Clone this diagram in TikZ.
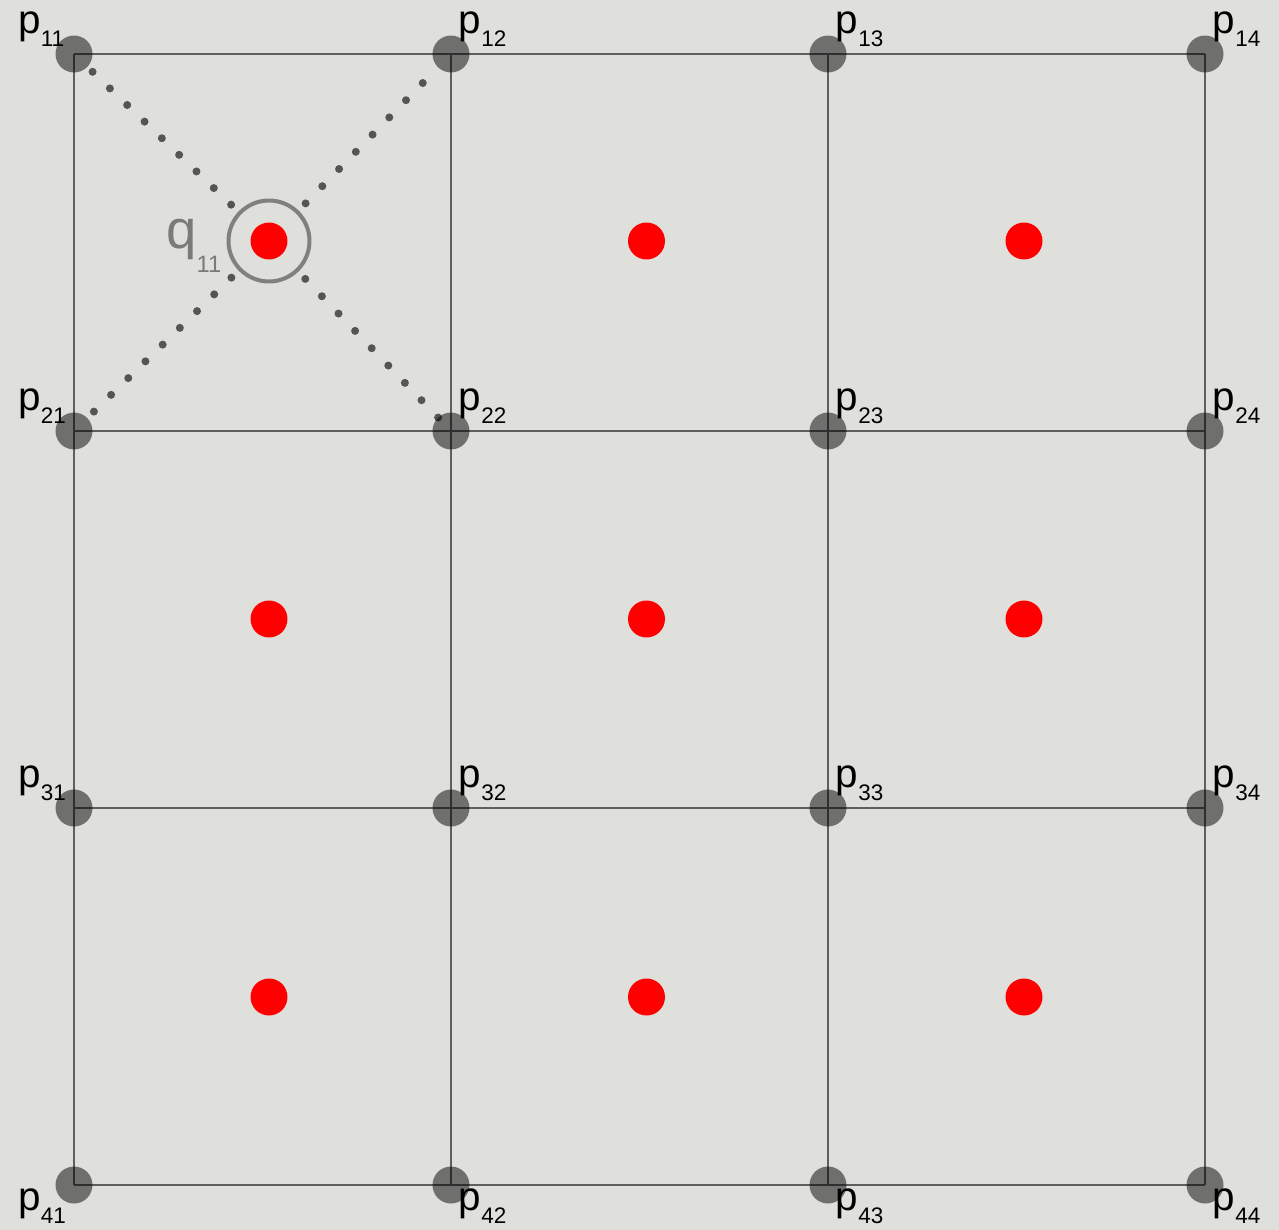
\documentclass[tikz,border=0pt]{standalone}
\usepackage{fontspec}
\setmainfont{Liberation Sans}
\usetikzlibrary{positioning}
\definecolor{paper}{RGB}{223,223,219}
\definecolor{gridgray}{RGB}{95,95,95}
\definecolor{dotgray}{RGB}{85,85,85}
\definecolor{ringgray}{RGB}{128,128,128}
\definecolor{qgray}{RGB}{122,122,122}

\newcommand{\psub}[2]{p\raisebox{-7.6pt}{\fontsize{12.8}{13}\selectfont #1#2}}

\begin{document}
\begin{tikzpicture}[
    x=0.02cm, y=-0.02cm,
    gridline/.style={draw=gridgray, line width=0.05cm},
    corner/.style={circle, fill=black, fill opacity=0.5, minimum size=0.74cm, inner sep=0pt},
    reddot/.style={circle, fill=red, minimum size=0.74cm, inner sep=0pt},
    ring/.style={circle, draw=ringgray, line width=0.08cm, minimum size=1.62cm, inner sep=0pt},
    plabel/.style={anchor=base west, inner sep=0pt, font=\fontsize{23}{24}\selectfont},
    qlabel/.style={anchor=base west, inner sep=0pt, text=qgray, font=\fontsize{31}{32}\selectfont},
    dotline/.style={dotgray, line width=0.16cm, line cap=round, dash pattern=on 0pt off 0.48cm,
        shorten <=0.2cm, shorten >=0.36cm}
]

\fill[paper] (0,0) rectangle (1279,1230);

\foreach \i in {1,...,4}
    \foreach \j in {1,...,4}
        \coordinate (p\i\j) at ({74+377*(\j-1)},{54+377*(\i-1)});

\foreach \i in {1,...,4} {
    \draw[gridline] (p\i1) -- (p\i4);
    \draw[gridline] (p1\i) -- (p4\i);
}

\foreach \i in {1,2,3}
    \foreach \j in {1,2,3}
        \node[reddot] (q\i\j) at ({269+377.5*(\j-1)},{241+378*(\i-1)}) {};

\node[ring] (ring) at (q11) {};
\node[qlabel] (qname) at (166,248.5) {q\raisebox{-13.4pt}{\fontsize{13.5}{14}\selectfont 11}};

\draw[dotline] (ring) -- (p11);
\draw[dotline] (ring) -- (p12);
\draw[dotline] (ring) -- (p21);
\draw[dotline] (ring) -- (p22);

\foreach \i in {1,...,4}
    \foreach \j in {1,...,4}
        \node[corner] (c\i\j) at (p\i\j) {};

\foreach \i in {1,2,3} {
    \node[plabel, xshift=-1.12cm, yshift=0.42cm] (l\i1) at (p\i1) {\psub{\i}{1}};
    \foreach \j in {2,3,4}
        \node[plabel, xshift=0.15cm, yshift=0.42cm] (l\i\j) at (p\i\j) {\psub{\i}{\j}};
}
\node[plabel, xshift=-1.12cm, yshift=-0.5cm] (l41) at (p41) {\psub{4}{1}};
\foreach \j in {2,3,4}
    \node[plabel, xshift=0.15cm, yshift=-0.5cm] (l4\j) at (p4\j) {\psub{4}{\j}};

\end{tikzpicture}
\end{document}
